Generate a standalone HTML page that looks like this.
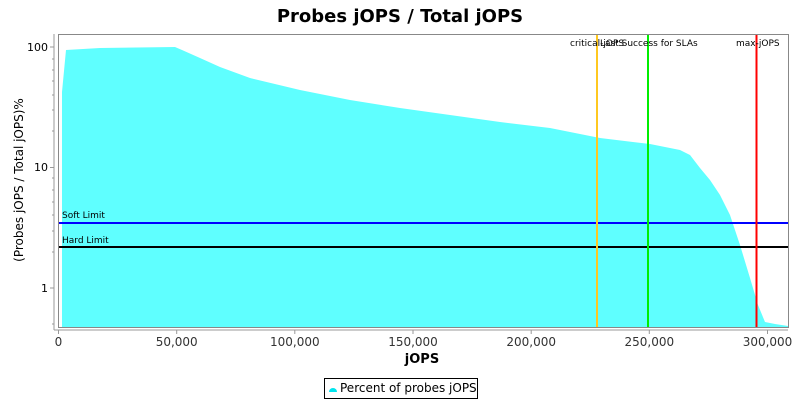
<!DOCTYPE html>
<html><head><meta charset="utf-8"><style>body{margin:0;background:#fff}svg{display:block}text{font-family:"DejaVu Sans","Liberation Sans",sans-serif}</style></head>
<body>
<svg width="800" height="400" xmlns="http://www.w3.org/2000/svg">
<text x="400" y="22" text-anchor="middle" font-size="18" font-weight="bold">Probes jOPS / Total jOPS</text>
<polygon fill="#5fffff" points="62,327 62,92 66,50 100,48 175,47 182,50 200,58 220,67 250,78 300,90 350,100 400,108 450,115 500,122 550,128 600,138 650,144 680,150 690,155 700,168 710,180 720,195 730,215 740,245 750,278 758,305 765,322 775,324 788,326 788,327"/>
<line x1="58" y1="223" x2="788" y2="223" stroke="#0000ff" stroke-width="2"/>
<line x1="58" y1="247" x2="788" y2="247" stroke="#000" stroke-width="2"/>
<text x="62" y="218" font-size="9">Soft Limit</text>
<text x="62" y="243" font-size="9">Hard Limit</text>
<line x1="597" y1="34" x2="597" y2="327" stroke="#ffc820" stroke-width="2"/>
<line x1="648" y1="34" x2="648" y2="327" stroke="#00ee00" stroke-width="2"/>
<line x1="756.5" y1="34" x2="756.5" y2="327" stroke="#ff0000" stroke-width="2"/>
<text x="570" y="46" font-size="9">critical-jOPS</text>
<text x="600" y="46" font-size="9">Last Success for SLAs</text>
<text x="736" y="46" font-size="9">max-jOPS</text>
<rect x="58.5" y="34.5" width="730" height="293" fill="none" stroke="#888"/>
<g stroke="#999">
<line x1="54" y1="330" x2="788" y2="330"/>
<line x1="54" y1="34" x2="54" y2="330"/>
<line x1="50" y1="47" x2="54" y2="47"/><line x1="50" y1="167.5" x2="54" y2="167.5"/><line x1="50" y1="288" x2="54" y2="288"/>
<line x1="52" y1="59" x2="54" y2="59"/><line x1="52" y1="70" x2="54" y2="70"/><line x1="52" y1="81" x2="54" y2="81"/><line x1="52" y1="95" x2="54" y2="95"/><line x1="52" y1="110" x2="54" y2="110"/><line x1="52" y1="131" x2="54" y2="131"/>
<line x1="52" y1="178" x2="54" y2="178"/><line x1="52" y1="190" x2="54" y2="190"/><line x1="52" y1="202" x2="54" y2="202"/><line x1="52" y1="215" x2="54" y2="215"/><line x1="52" y1="231" x2="54" y2="231"/><line x1="52" y1="252" x2="54" y2="252"/>
<line x1="52" y1="324" x2="54" y2="324"/>
<line x1="58.5" y1="330" x2="58.5" y2="334"/><line x1="176.7" y1="330" x2="176.7" y2="334"/><line x1="294.8" y1="330" x2="294.8" y2="334"/><line x1="413" y1="330" x2="413" y2="334"/><line x1="531.2" y1="330" x2="531.2" y2="334"/><line x1="649.3" y1="330" x2="649.3" y2="334"/><line x1="767.5" y1="330" x2="767.5" y2="334"/>
</g>
<g font-size="11" text-anchor="end"><text x="48" y="51">100</text><text x="48" y="171">10</text><text x="48" y="292">1</text></g>
<g font-size="12" text-anchor="middle" fill="#333"><text x="58.5" y="346">0</text><text x="176.7" y="346">50,000</text><text x="294.8" y="346">100,000</text><text x="413" y="346">150,000</text><text x="531.2" y="346">200,000</text><text x="649.3" y="346">250,000</text><text x="767.5" y="346">300,000</text></g>
<text x="422" y="363" text-anchor="middle" font-size="13" font-weight="bold">jOPS</text>
<text transform="translate(23,180) rotate(-90)" text-anchor="middle" font-size="12">(Probes jOPS / Total jOPS)%</text>
<rect x="324.5" y="378.5" width="153" height="20" fill="#fff" stroke="#000"/>
<path d="M329,392 a4,4 0 0 1 8,0 z" fill="#00e5ee"/>
<text x="340" y="392" font-size="12">Percent of probes jOPS</text>
</svg>
</body></html>
